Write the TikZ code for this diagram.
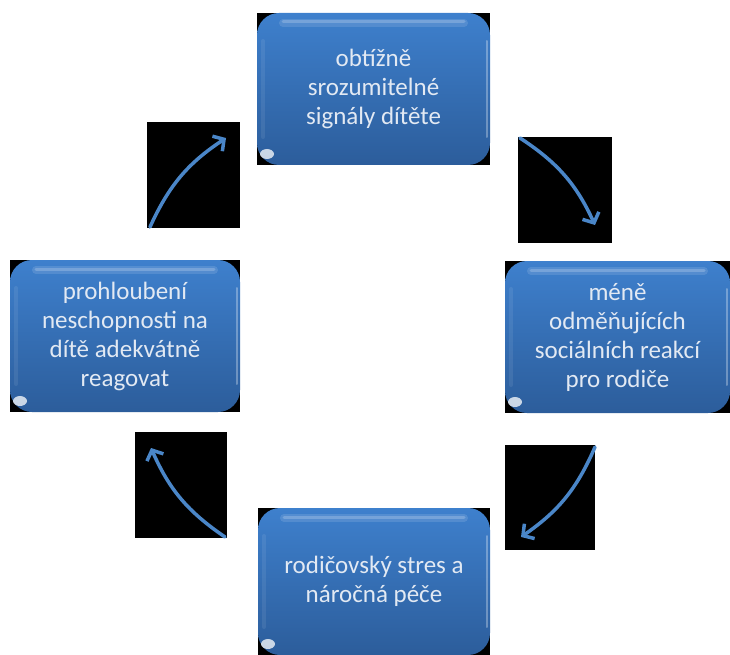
\documentclass[tikz,border=0pt]{standalone}
\usepackage{fontspec}
\setmainfont{Carlito}
\usetikzlibrary{positioning, calc, arrows.meta}

\definecolor{boxtop}{RGB}{62,128,205}
\definecolor{boxbot}{RGB}{44,93,155}
\definecolor{boxtext}{RGB}{226,233,243}
\definecolor{arrowblue}{RGB}{74,134,200}

\begin{document}
\begin{tikzpicture}[x=1pt,y=-1pt,
    panel/.style={fill=black, inner sep=0pt, outer sep=0pt},
    stage/.style={rounded corners=22pt, top color=boxtop, bottom color=boxbot, text=boxtext,
        align=center, inner sep=0pt, outer sep=0pt, minimum width=232pt, minimum height=152pt,
        font=\fontsize{25}{29}\selectfont},
    gloss/.style={white, line cap=round},
    cycle/.style={draw=arrowblue, line width=3.5pt, line cap=round, bend left=16,
        -{Straight Barb[length=8pt,width=18pt]}}]

\useasboundingbox (0,0) rectangle (730,655);

% black backs of the four boxes
\node[panel, minimum width=233pt, minimum height=152pt] (signalsback) at (373.5,89) {};
\node[panel, minimum width=230pt, minimum height=152pt] (inabilityback) at (125,336) {};
\node[panel, minimum width=225pt, minimum height=152pt] (rewardsback) at (617.5,337) {};
\node[panel, minimum width=232pt, minimum height=147pt] (stressback) at (374,581.5) {};

\node[stage, minimum width=233pt] (signals) at (373.5,89) {obtížně\\srozumitelné\\signály dítěte};
\node[stage, minimum width=230pt] (inability) at (125,336) {prohloubení\\neschopnosti na\\dítě adekvátně\\reagovat};
\node[stage, minimum width=225pt] (rewards) at (617.5,337) {méně\\odměňujících\\sociálních reakcí\\pro rodiče};
\node[stage, minimum height=147pt] (stress) at (374,581.5) {rodičovský stres a\\náročná péče};

% glossy edges
\foreach \n in {signals,inability,rewards,stress} {
    \draw[gloss, opacity=0.12, line width=8pt] ([xshift=26pt,yshift=-10pt]\n.north west) -- ([xshift=-26pt,yshift=-10pt]\n.north east);
    \draw[gloss, opacity=0.2, line width=3pt] ([xshift=26pt,yshift=-9pt]\n.north west) -- ([xshift=-26pt,yshift=-9pt]\n.north east);
    \draw[gloss, opacity=0.3, line width=2pt] ([xshift=-3pt,yshift=-28pt]\n.north east) -- ([xshift=-3pt,yshift=28pt]\n.south east);
    \draw[gloss, opacity=0.08, line width=4pt] ([xshift=6pt,yshift=-28pt]\n.north west) -- ([xshift=6pt,yshift=28pt]\n.south west);
    \fill[white, opacity=0.75] ([xshift=10pt,yshift=11pt]\n.south west) ellipse (7pt and 5pt);
}

% black squares behind the arrows
\node[panel, minimum width=93pt, minimum height=106pt] (tlpanel) at (193.5,175) {};
\node[panel, minimum width=94pt, minimum height=106pt] (trpanel) at (565,190) {};
\node[panel, minimum width=90pt, minimum height=105pt] (brpanel) at (550,497.5) {};
\node[panel, minimum width=92pt, minimum height=106pt] (blpanel) at (181,485) {};

\coordinate (tlfrom) at (150,227);
\coordinate (tlto) at (226,138);
\coordinate (trfrom) at (520,138);
\coordinate (trto) at (595,225);
\coordinate (brfrom) at (595,447);
\coordinate (brto) at (521,537);
\coordinate (blfrom) at (225,537);
\coordinate (blto) at (151,448);

\draw[cycle] (tlfrom) to (tlto);
\draw[cycle] (trfrom) to (trto);
\draw[cycle] (brfrom) to (brto);
\draw[cycle] (blfrom) to (blto);

\end{tikzpicture}
\end{document}
